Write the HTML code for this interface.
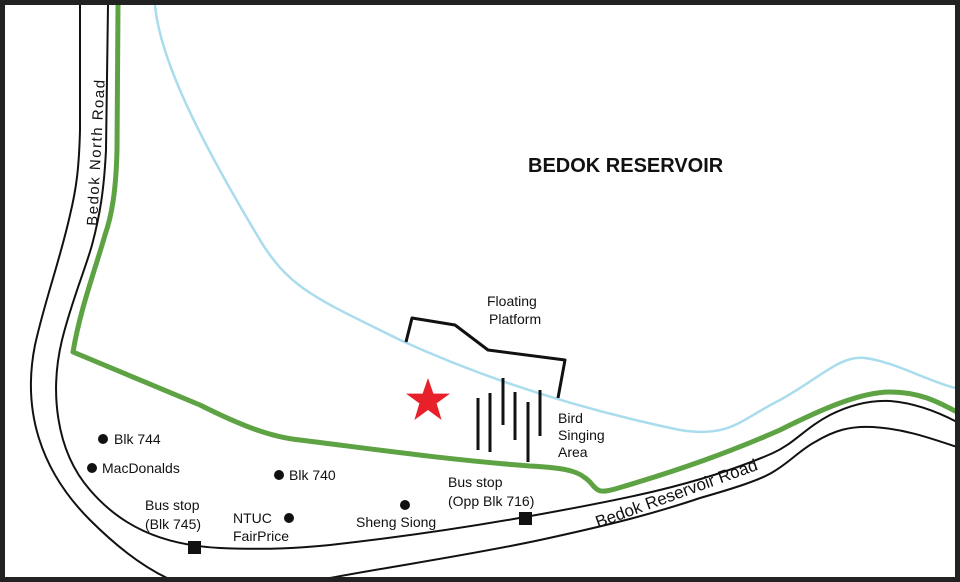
<!DOCTYPE html>
<html><head><meta charset="utf-8"><style>
html,body{margin:0;padding:0;background:#fff}
svg{display:block}
text{font-family:"Liberation Sans",sans-serif;fill:#111;font-size:14px}
</style></head><body>
<svg width="960" height="582" viewBox="0 0 960 582" xmlns="http://www.w3.org/2000/svg">
<rect x="0" y="0" width="960" height="582" fill="#fff"/>
<path d="M155,5 C160,60 200,140 260,240 C290,290 320,300 400,340 C470,372 560,405 680,430 C730,438 740,420 780,400 C820,378 840,355 865,358 C895,362 925,380 955,388" fill="none" stroke="#a9dcec" stroke-width="2.5"/>
<path d="M80,5 L80,130 C79,170 76,190 70,215 C60,260 45,300 35,345 C22,410 40,470 90,520 C115,545 140,565 167,578" fill="none" stroke="#111" stroke-width="2"/>
<path d="M108,5 L106,150 C104,190 100,215 92,245 C85,270 72,300 62,340 C50,390 55,450 90,490 C120,525 160,545 220,548 C270,550 300,548 330,545 C420,535 480,525 525,517 C620,500 700,485 773,453 C795,443 805,428 830,415 C850,405 870,400 890,401 C915,403 938,412 957,422" fill="none" stroke="#111" stroke-width="2"/>
<path d="M330,578 C400,565 470,555 540,540 C600,527 650,515 700,498 C735,488 760,480 773,472 C790,462 800,450 815,442 C835,430 850,426 873,427 C905,429 930,438 957,447" fill="none" stroke="#111" stroke-width="2"/>
<path d="M118,5 L117,150 C116,190 112,215 105,235 C95,270 80,310 73,352 L200,405 C240,425 270,437 300,440 C380,450 450,460 530,466 C570,468 580,472 590,482 C598,492 600,493 615,489 C680,470 730,452 780,430 C820,410 860,392 890,392 C920,392 938,402 957,412" fill="none" stroke="#5ea343" stroke-width="5" stroke-linejoin="round"/>
<polyline points="406,342 412,318 455,325 488,350 565,360 558,398" fill="none" stroke="#111" stroke-width="3" stroke-linejoin="round"/>
<g stroke="#111" stroke-width="3">
<line x1="490" y1="393" x2="490" y2="452"/>
<line x1="503" y1="378" x2="503" y2="425"/>
<line x1="515" y1="392" x2="515" y2="440"/>
<line x1="528" y1="402" x2="528" y2="462"/>
<line x1="540" y1="390" x2="540" y2="436"/>
<line x1="478" y1="398" x2="478" y2="450"/>
</g>
<polygon points="428,378 433.4,393.6 450,393.6 436.6,403.4 441.6,420 428,410 414.4,420 419.4,403.4 406,393.6 422.6,393.6" fill="#e8202a"/>
<g fill="#111">
<circle cx="103" cy="439" r="5"/>
<circle cx="92" cy="468" r="5"/>
<circle cx="279" cy="475" r="5"/>
<circle cx="289" cy="518" r="5"/>
<circle cx="405" cy="505" r="5"/>
<rect x="188" y="541" width="13" height="13"/>
<rect x="519" y="512" width="13" height="13"/>
</g>
<text x="528" y="172" style="font-size:20px;font-weight:bold">BEDOK RESERVOIR</text>
<text x="487" y="306">Floating</text>
<text x="489" y="324">Platform</text>
<text x="558" y="423">Bird</text>
<text x="558" y="440">Singing</text>
<text x="558" y="457">Area</text>
<text x="114" y="444">Blk 744</text>
<text x="102" y="473">MacDonalds</text>
<text x="289" y="480">Blk 740</text>
<text x="145" y="510">Bus stop</text>
<text x="145" y="529">(Blk 745)</text>
<text x="233" y="523">NTUC</text>
<text x="233" y="541">FairPrice</text>
<text x="356" y="527">Sheng Siong</text>
<text x="448" y="487">Bus stop</text>
<text x="448" y="506">(Opp Blk 716)</text>
<text transform="translate(97,226) rotate(-87)" style="font-size:15px" textLength="146" lengthAdjust="spacing">Bedok North Road</text>
<text transform="translate(598,528) rotate(-20)" style="font-size:17px">Bedok Reservoir Road</text>
<rect x="2.5" y="2.5" width="955" height="577" fill="none" stroke="#222" stroke-width="5"/>
</svg>
</body></html>
